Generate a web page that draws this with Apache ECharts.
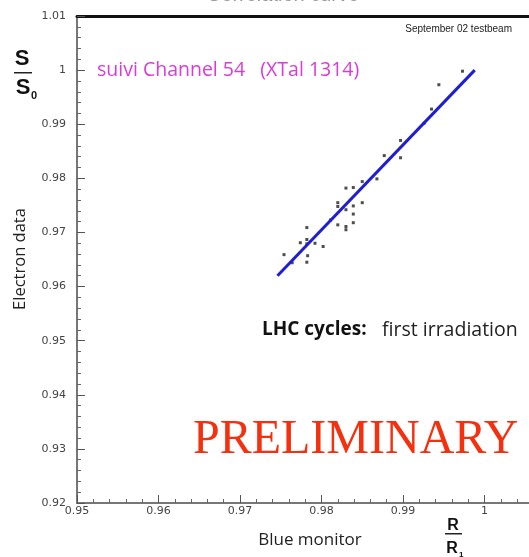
<!DOCTYPE html>
<html>
<head>
<meta charset="utf-8">
<script src="https://cdn.jsdelivr.net/npm/echarts@6/dist/echarts.min.js"></script>
<style>
html,body{margin:0;padding:0;background:#fff;}
#chart{width:529px;height:557px;}
</style>
</head>
<body>
<div id="chart"></div>
<script>
// Data
const blueMonitor = [0.9973, 0.9944, 0.9935, 0.9926, 0.9897, 0.9877, 0.9897, 0.9868, 0.9850, 0.9839,
  0.9830, 0.9820, 0.9820, 0.9830, 0.9839, 0.9850, 0.9839, 0.9820, 0.9830, 0.9830,
  0.9839, 0.9811, 0.9782, 0.9774, 0.9782, 0.9782, 0.9792, 0.9802, 0.9754, 0.9783,
  0.9782, 0.9764];
const electronData = [0.9998, 0.9973, 0.9928, 0.9902, 0.9870, 0.9842, 0.9838, 0.9799, 0.9794, 0.9783,
  0.9782, 0.9755, 0.9748, 0.9742, 0.9749, 0.9755, 0.9734, 0.9714, 0.9711, 0.9705,
  0.9718, 0.9723, 0.9709, 0.9681, 0.9687, 0.9679, 0.9680, 0.9674, 0.9659, 0.9657,
  0.9645, 0.9644];
const fitX = [0.9746, 0.9988];
const fitY = [0.962, 1.0];
const xTicks = {min: 0.95, max: 1.01, step: 0.01};
const yTicks = {min: 0.92, max: 1.01, step: 0.01};

const points = blueMonitor.map((x, i) => [x, electronData[i]]);
const fitLine = fitX.map((x, i) => [x, fitY[i]]);

const chart = echarts.init(document.getElementById('chart'));
const labelStyle = {color: '#444', fontSize: 11, fontFamily: 'DejaVu Sans'};
chart.setOption({
  animation: false,
  grid: {left: 77, top: 16, bottom: 54, right: -37, outerBoundsMode: 'none', containLabel: false},
  xAxis: [{
    type: 'value', min: xTicks.min, max: xTicks.max, interval: xTicks.step,
    axisLine: {show: true, lineStyle: {color: '#777', width: 2}},
    axisTick: {show: true, inside: true, length: 8, lineStyle: {color: '#555'}},
    minorTick: {show: true, splitNumber: 5, length: 4, lineStyle: {color: '#666'}},
    splitLine: {show: false},
    axisLabel: Object.assign({margin: 3}, labelStyle)
  }, {
    type: 'value', position: 'top', min: xTicks.min, max: xTicks.max,
    axisLine: {show: true, lineStyle: {color: '#111', width: 3}},
    axisTick: {show: false}, axisLabel: {show: false}, splitLine: {show: false}
  }],
  yAxis: {
    type: 'value', min: yTicks.min, max: yTicks.max, interval: yTicks.step,
    axisLine: {show: true, lineStyle: {color: '#777', width: 2}},
    axisTick: {show: true, inside: true, length: 8, lineStyle: {color: '#555'}},
    minorTick: {show: true, splitNumber: 5, length: 4, lineStyle: {color: '#666'}},
    splitLine: {show: false},
    axisLabel: Object.assign({margin: 11}, labelStyle)
  },
  series: [{
    type: 'scatter', data: points, symbol: 'rect', symbolSize: 3,
    itemStyle: {color: '#222'}, z: 3
  }, {
    type: 'line', data: fitLine, symbol: 'none',
    lineStyle: {color: '#1f1fcf', width: 3}, z: 4
  }],
  graphic: [
    {type: 'text', style: {text: 'Correlation curve', x: 283, y: 5, align: 'center', verticalAlign: 'bottom', fill: '#999', font: '20px "Liberation Sans"'}},
    {type: 'text', style: {text: 'September 02 testbeam', x: 512, y: 29, align: 'right', verticalAlign: 'middle', fill: '#222', font: '10px "Liberation Sans"'}},
    {type: 'text', style: {text: 'suivi Channel 54   (XTal 1314)', x: 97, y: 70, verticalAlign: 'middle', fill: '#d93bd9', font: '19.5px "Open Sans"'}},
    {type: 'text', style: {text: 'S', x: 22, y: 59, align: 'center', verticalAlign: 'middle', fill: '#111', font: 'bold 22px "Liberation Sans"'}},
    {type: 'rect', shape: {x: 14, y: 72, width: 18, height: 1.5}, style: {fill: '#222'}},
    {type: 'text', style: {text: 'S', x: 23, y: 88, align: 'center', verticalAlign: 'middle', fill: '#111', font: 'bold 22px "Liberation Sans"'}},
    {type: 'text', style: {text: '0', x: 31, y: 96, verticalAlign: 'middle', fill: '#111', font: 'bold 11px "Liberation Sans"'}},
    {type: 'text', rotation: Math.PI / 2, x: 20, y: 259, style: {text: 'Electron data', x: 0, y: 0, align: 'center', verticalAlign: 'middle', fill: '#222', font: '16.5px "Open Sans"'}},
    {type: 'text', style: {text: 'Blue monitor', x: 310, y: 540, align: 'center', verticalAlign: 'middle', fill: '#222', font: '17px "Open Sans"'}},
    {type: 'text', style: {text: 'R', x: 453, y: 526, align: 'center', verticalAlign: 'middle', fill: '#111', font: 'bold 16px "Liberation Sans"'}},
    {type: 'rect', shape: {x: 445, y: 533, width: 17, height: 1.5}, style: {fill: '#222'}},
    {type: 'text', style: {text: 'R', x: 452, y: 549, align: 'center', verticalAlign: 'middle', fill: '#111', font: 'bold 16px "Liberation Sans"'}},
    {type: 'text', style: {text: '1', x: 459, y: 555, verticalAlign: 'middle', fill: '#111', font: 'bold 8px "Liberation Sans"'}},
    {type: 'text', style: {text: 'LHC cycles:', x: 262, y: 330, verticalAlign: 'middle', fill: '#111', font: 'bold 19px "Open Sans"'}},
    {type: 'text', style: {text: 'first irradiation', x: 382, y: 330, verticalAlign: 'middle', fill: '#222', font: '19.5px "Open Sans"'}},
    {type: 'text', style: {text: 'PRELIMINARY', x: 193, y: 440, verticalAlign: 'middle', fill: '#f5300f', font: '48px "Liberation Serif"'}}
  ]
});
</script>
</body>
</html>
